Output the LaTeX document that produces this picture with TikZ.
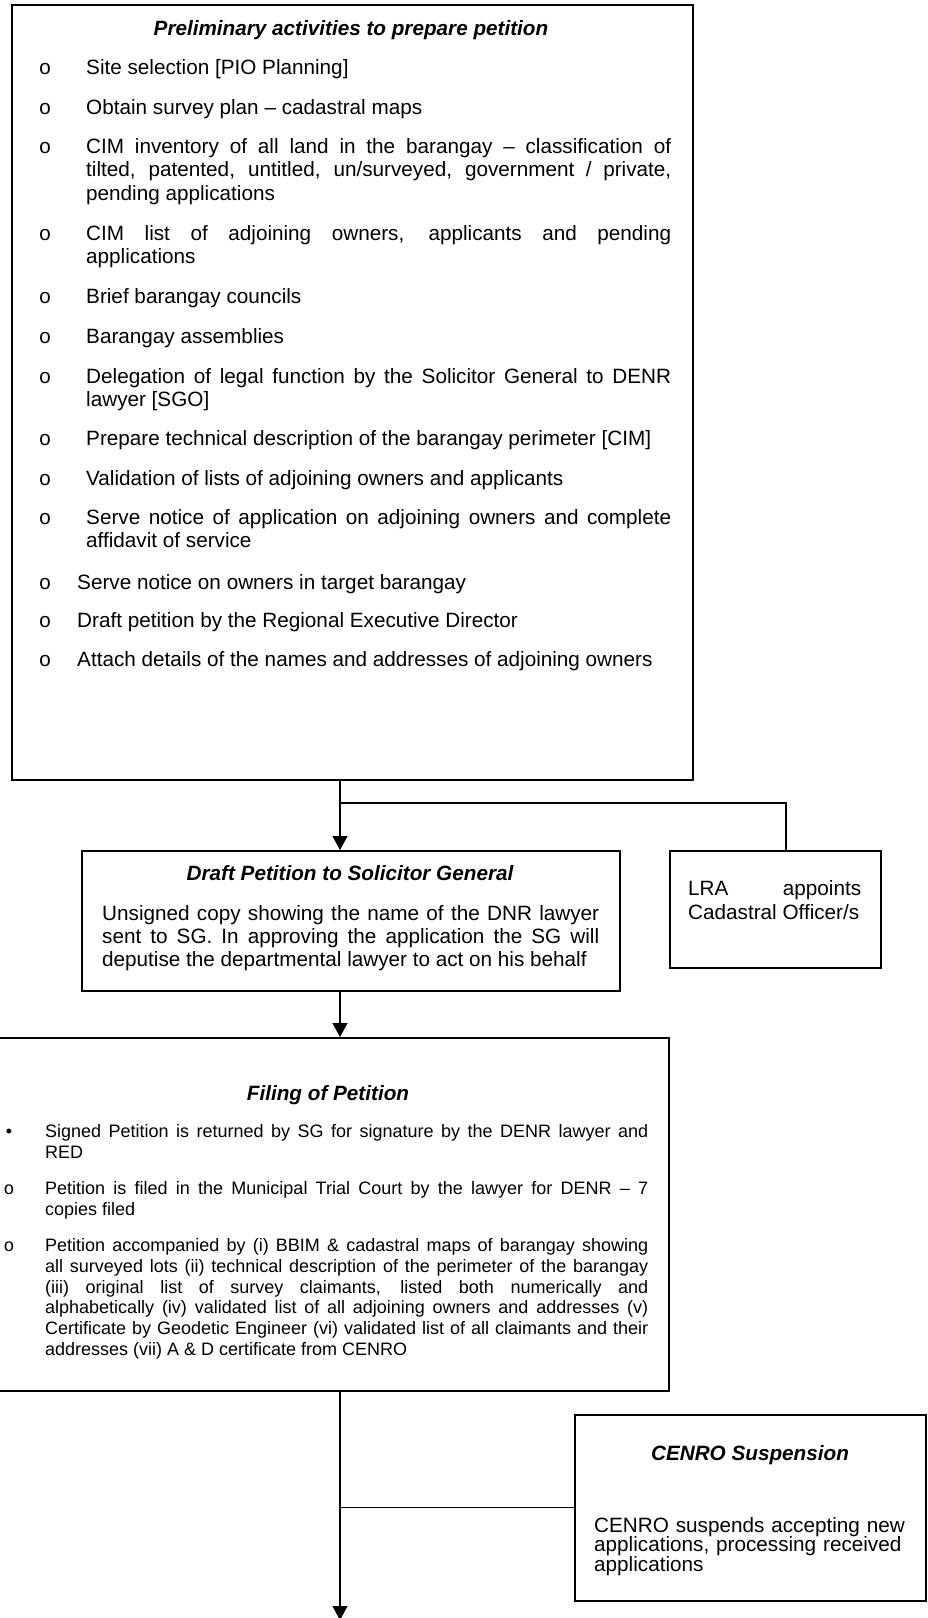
\documentclass[tikz,border=0pt]{standalone}
\usepackage{fontspec}
\setmainfont{Liberation Sans}
\newfontfamily\bulletfont{Liberation Mono}
\usetikzlibrary{arrows.meta}
\hyphenpenalty=10000
\exhyphenpenalty=10000
\tolerance=10000
\hbadness=10000

\begin{document}
\begin{tikzpicture}[x=1pt, y=-1pt,
  box/.style={draw, line width=1.5pt, inner sep=0pt, anchor=north west},
  link/.style={line width=1.2pt},
  arrowlink/.style={link, -{Triangle[length=14pt, width=15pt]}},
  bigtext/.style={font=\fontsize{20.7}{23.5}\selectfont},
  smalltext/.style={font=\fontsize{18}{20.8}\selectfont},
  heading/.style={inner sep=0pt, anchor=base, font=\fontsize{20.7}{23.5}\selectfont\bfseries\itshape},
  para/.style={inner sep=0pt, anchor=base west, align=justify},
  hollowdot/.style={inner sep=0pt, anchor=base, font=\bulletfont\fontsize{20.7}{23.5}\selectfont},
  smalldot/.style={inner sep=0pt, anchor=base, font=\bulletfont\fontsize{18}{20.8}\selectfont},
  soliddot/.style={inner sep=0pt, anchor=base, font=\fontsize{18}{20.8}\selectfont},
]
\useasboundingbox (0,0) rectangle (927,1618);

% ---------- boxes ----------
\node[box, minimum width=681pt, minimum height=775pt] (prelim) at (11,4) {};
\node[box, minimum width=538pt, minimum height=140pt] (draft) at (81,850) {};
\node[box, minimum width=211pt, minimum height=117pt] (lra) at (669,850) {};
\node[box, minimum width=680pt, minimum height=353pt] (filing) at (-12,1037) {};
\node[box, minimum width=351pt, minimum height=186pt] (cenro) at (574,1414) {};

% ---------- preliminary activities ----------
\node[heading] (prelimtitle) at (351,35) {Preliminary activities to prepare petition};
\foreach \yy [count=\i] in {74,114,153,240,303,343,383,445,485,524,589,627,666}
  \node[hollowdot] (pdot\i) at (45,\yy) {o};
\node[para, bigtext, text width=585pt] (p1) at (86,74) {Site selection [PIO Planning]};
\node[para, bigtext, text width=585pt] (p2) at (86,114) {Obtain survey plan – cadastral maps};
\node[para, bigtext, text width=585pt] (p3) at (86,153) {CIM inventory of all land in the barangay – classification of\linebreak tilted, patented, untitled, un/surveyed, government / private,\linebreak pending applications};
\node[para, bigtext, text width=585pt] (p4) at (86,240) {CIM list of adjoining owners, applicants and pending\linebreak applications};
\node[para, bigtext, text width=585pt] (p5) at (86,303) {Brief barangay councils};
\node[para, bigtext, text width=585pt] (p6) at (86,343) {Barangay assemblies};
\node[para, bigtext, text width=585pt] (p7) at (86,383) {Delegation of legal function by the Solicitor General to DENR\linebreak lawyer [SGO]};
\node[para, bigtext, text width=585pt] (p8) at (86,445) {Prepare technical description of the barangay perimeter [CIM]};
\node[para, bigtext, text width=585pt] (p9) at (86,485) {Validation of lists of adjoining owners and applicants};
\node[para, bigtext, text width=585pt] (p10) at (86,524) {Serve notice of application on adjoining owners and complete\linebreak affidavit of service};
\node[para, bigtext, text width=594pt] (p11) at (77,589) {Serve notice on owners in target barangay};
\node[para, bigtext, text width=594pt] (p12) at (77,627) {Draft petition by the Regional Executive Director};
\node[para, bigtext, text width=594pt] (p13) at (77,666) {Attach details of the names and addresses of adjoining owners};

% ---------- draft petition ----------
\node[heading] (drafttitle) at (350,880) {Draft Petition to Solicitor General};
\node[para, font=\fontsize{20.7}{23}\selectfont, text width=497pt] (draftbody) at (102,920) {Unsigned copy showing the name of the DNR lawyer\linebreak sent to SG. In approving the application the SG will\linebreak deputise the departmental lawyer to act on his behalf};

% ---------- LRA ----------
\node[para, font=\fontsize{20.7}{24}\selectfont, text width=173pt] (lrabody) at (688,895) {LRA appoints\linebreak Cadastral Officer/s};

% ---------- filing of petition ----------
\node[heading] (filingtitle) at (328,1100) {Filing of Petition};
\node[soliddot] (fdot1) at (9,1137.5) {•};
\node[smalldot] (fdot2) at (9,1194.5) {o};
\node[smalldot] (fdot3) at (9,1251.5) {o};
\node[para, smalltext, text width=603pt] (f1) at (45,1137.5) {Signed Petition is returned by SG for signature by the DENR lawyer and\linebreak RED};
\node[para, smalltext, text width=603pt] (f2) at (45,1194.5) {Petition is filed in the Municipal Trial Court by the lawyer for DENR – 7\linebreak copies filed};
\node[para, smalltext, text width=603pt] (f3) at (45,1251.5) {Petition accompanied by (i) BBIM \& cadastral maps of barangay showing\linebreak all surveyed lots (ii) technical description of the perimeter of the barangay\linebreak (iii) original list of survey claimants, listed both numerically and\linebreak alphabetically (iv) validated list of all adjoining owners and addresses (v)\linebreak Certificate by Geodetic Engineer (vi) validated list of all claimants and their\linebreak addresses (vii) A \& D certificate from CENRO};

% ---------- CENRO suspension ----------
\node[heading] (cenrotitle) at (750,1460) {CENRO Suspension};
\node[inner sep=0pt, anchor=base west, align=left, text width=320pt, font=\fontsize{20.7}{19.7}\selectfont] (cenrobody) at (594,1532) {CENRO suspends accepting new\\applications, processing received\\applications};

% ---------- connectors ----------
\coordinate (spine) at (340,0);
\coordinate (forkA) at (340,803);
\coordinate (lraDrop) at (786,0);
\coordinate (endTip) at (340,1620);
\draw[arrowlink] (prelim.south -| spine) -- (draft.north -| spine);
\draw[link] (forkA) -| (lra.north -| lraDrop);
\draw[arrowlink] (draft.south -| spine) -- (filing.north -| spine);
\draw[arrowlink] (filing.south -| spine) -- (endTip);
\draw[link] (cenro.west) -- (cenro.west -| spine);
\end{tikzpicture}
\end{document}
